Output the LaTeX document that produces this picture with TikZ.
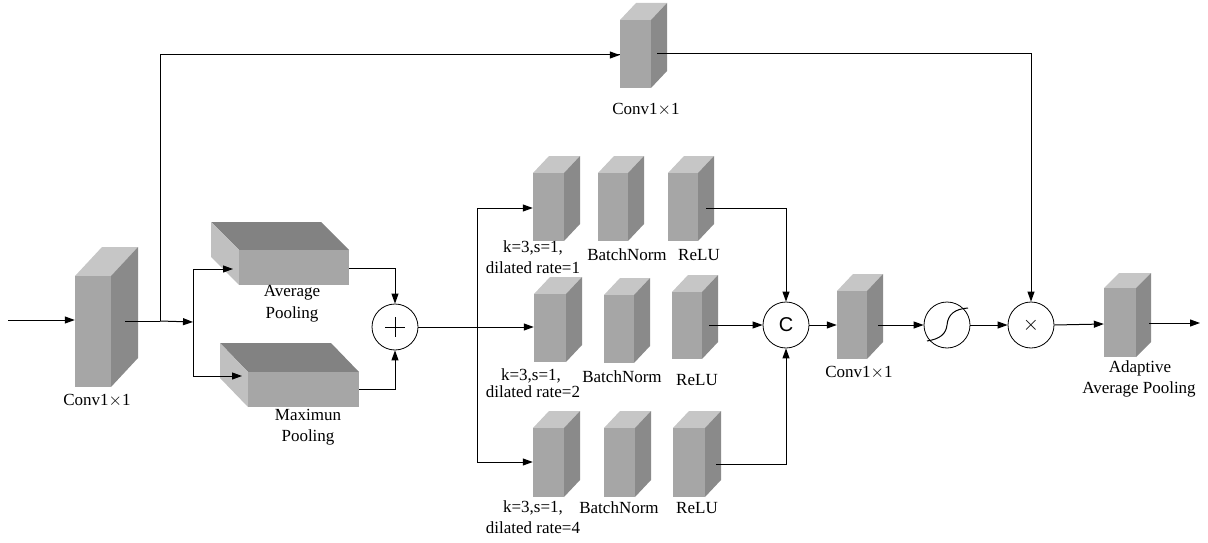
\documentclass[tikz,border=0pt]{standalone}
\usepackage{fontspec}
\setmainfont{Liberation Serif}
\newfontfamily\sansf{Liberation Sans}
\usetikzlibrary{arrows.meta}
\definecolor{cfront}{HTML}{A6A6A6}
\definecolor{cside}{HTML}{8A8A8A}
\definecolor{ctop}{HTML}{C6C6C6}
\definecolor{pltop}{HTML}{828282}
\definecolor{plside}{HTML}{C0C0C0}
\tikzset{
  conn/.style={line width=1pt,-{Triangle[length=10pt,width=7pt]}},
  plain/.style={line width=1pt},
  lbl/.style={font=\fontsize{17}{20}\selectfont, inner sep=0pt},
  op/.style={circle, draw, line width=0.8pt, minimum size=46pt, inner sep=0pt},
}
% cuboid with depth to upper right: name, x1,y1 (front top-left), x2,y2 (front bottom-right), dx, dy
\newcommand{\cubeR}[7]{%
  \fill[ctop] (#2,#3) -- (#2+#6,#3-#7) -- (#4+#6,#3-#7) -- (#4,#3) -- cycle;
  \fill[cside] (#4,#3) -- (#4+#6,#3-#7) -- (#4+#6,#5-#7) -- (#4,#5) -- cycle;
  \fill[cfront] (#2,#3) rectangle (#4,#5);
  \node[inner sep=0pt, minimum width=#4-#2, minimum height=#5-#3] (#1) at ({(#2+#4)/2},{(#3+#5)/2}) {};
}
% cuboid with depth to upper left
\newcommand{\cubeL}[7]{%
  \fill[pltop] (#2,#3) -- (#2-#6,#3-#7) -- (#4-#6,#3-#7) -- (#4,#3) -- cycle;
  \fill[plside] (#2,#3) -- (#2-#6,#3-#7) -- (#2-#6,#5-#7) -- (#2,#5) -- cycle;
  \fill[cfront] (#2,#3) rectangle (#4,#5);
  \node[inner sep=0pt, minimum width=#4-#2, minimum height=#5-#3] (#1) at ({(#2+#4)/2},{(#3+#5)/2}) {};
}
\begin{document}
\begin{tikzpicture}[x=1pt,y=-1pt]
\useasboundingbox (0,0) rectangle (1208,543);

% cuboids
\cubeR{conva}{75}{276}{111}{387}{27}{29}
\cubeL{avgp}{239}{250}{349}{285}{28}{28}
\cubeL{maxp}{248}{372}{359}{407}{28}{29}
\cubeR{convt}{620}{20}{651}{88}{16}{17}

\cubeR{c1}{533}{173}{564}{241}{16}{17}
\cubeR{b1}{598}{173}{628}{241}{16}{17}
\cubeR{r1}{668}{173}{698}{241}{16}{17}

\cubeR{c2}{534}{294}{566}{362}{16}{17}
\cubeR{b2}{604}{295}{634}{363}{16}{17}
\cubeR{r2}{672}{292}{702}{359}{16}{17}

\cubeR{c3}{533}{428}{564}{497}{16}{17}
\cubeR{b3}{604}{428}{635}{497}{16}{17}
\cubeR{r3}{673}{428}{705}{497}{16}{17}

\cubeR{convb}{837}{291}{867}{359}{16}{17}
\cubeR{aap}{1104}{288}{1136}{357}{15}{15}

% operators
\node[op] (plus) at (395,327) {};
\draw[line width=1pt] (385,327) -- (405,327) (395,317) -- (395,337);
\node[op, font=\sansf\fontsize{20}{24}\selectfont] (cat) at (786,325) {C};
\node[op] (sig) at (947,325) {};
\draw[line width=1pt] (927,341) .. controls (940,339) and (946,334) .. (947,325) .. controls (948,314) and (955,309) .. (968,308);
\node[op, font=\sansf\fontsize{20}{24}\selectfont] (mul) at (1031,325) {$\times$};

% coordinates
\coordinate (in) at (8,320);
\coordinate (s1) at (160,321);
\coordinate (s2) at (193,322);
\coordinate (s3) at (477,327);

% connectors
\draw[conn] (in) -- (conva.west |- in);
\draw[plain] ([xshift=14pt]conva.east |- s1) -- (s1);
\draw[conn] (s1) -- (s2);
\draw[plain] (s1) -- (160,55) -- (convt.west |- 0,55);
\draw[conn] (160,55) -- (convt.west |- 0,55);
\draw[conn] (s2) -- (193,269) -- (233,269);
\draw[conn] (s2) -- (193,376) -- (242,376);
\draw[conn] (avgp.east |- 0,268) -- (395,268) -- (plus.north);
\draw[conn] (maxp.east |- 0,389) -- (395,389) -- (plus.south);
\draw[plain] (plus.east) -- (s3);
\draw[conn] (s3) -- (477,208) -- (c1.west |- 0,208);
\draw[conn] (s3) -- (c2.west |- s3);
\draw[conn] (s3) -- (477,462) -- (c3.west |- 0,462);
\draw[conn] ([xshift=8pt]r1.east |- 0,208) -- (786,208) -- (cat.north);
\draw[conn] ([xshift=7pt]r2.east |- 0,325) -- (cat.west);
\draw[conn] ([xshift=11pt]r3.east |- 0,464) -- (786,464) -- (cat.south);
\draw[conn] (cat.east) -- (convb.west |- cat);
\draw[conn] ([xshift=11pt]convb.east |- cat) -- (sig.west);
\draw[conn] (sig.east) -- (mul.west);
\draw[conn] ([xshift=6pt]convt.east |- 0,54) -- (1031,54) -- (mul.north);
\draw[conn] (mul.east) -- (aap.west |- 0,324);
\draw[conn] ([xshift=13pt]aap.east |- 0,323) -- (1200,323);

% labels
\node[lbl] (lca) at (97,401) {Conv1$\times$1};
\node[lbl] (lav1) at (292,293) {Average};
\node[lbl] (lav2) at (292,314) {Pooling};
\node[lbl] (lmx1) at (308,415) {Maximun};
\node[lbl] (lmx2) at (308,437) {Pooling};
\node[lbl] (lct) at (646,110) {Conv1$\times$1};

\node[lbl] (k1a) at (533,248) {k=3,s=1,};
\node[lbl] (k1b) at (533,268) {dilated rate=1};
\node[lbl] (bn1) at (627,255) {BatchNorm};
\node[lbl] (re1) at (699,255) {ReLU};

\node[lbl] (k2a) at (531,376) {k=3,s=1,};
\node[lbl] (k2b) at (533,392) {dilated rate=2};
\node[lbl] (bn2) at (622,377) {BatchNorm};
\node[lbl] (re2) at (697,380) {ReLU};

\node[lbl] (k3a) at (533,508) {k=3,s=1,};
\node[lbl] (k3b) at (533,528) {dilated rate=4};
\node[lbl] (bn3) at (619,508) {BatchNorm};
\node[lbl] (re3) at (697,508) {ReLU};

\node[lbl] (lcb) at (859,373) {Conv1$\times$1};
\node[lbl] (la1) at (1140,368) {Adaptive};
\node[lbl] (la2) at (1139,389) {Average Pooling};
\end{tikzpicture}
\end{document}
